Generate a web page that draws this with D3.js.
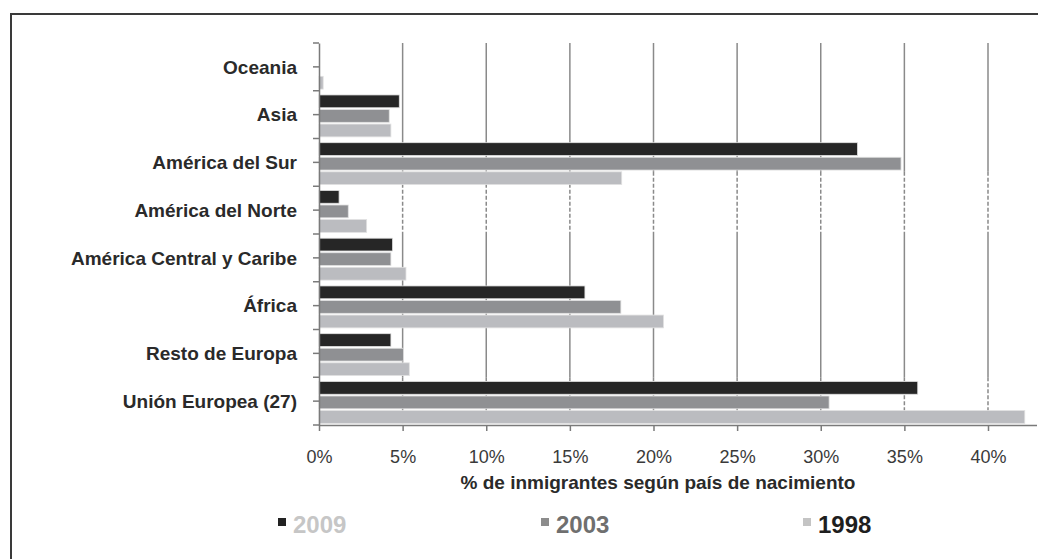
<!DOCTYPE html>
<html>
<head>
<meta charset="utf-8">
<script src="https://cdn.jsdelivr.net/npm/d3@7"></script>
<style>
  html, body { margin: 0; padding: 0; background: #fff; }
  svg { display: block; font-family: "Liberation Sans", Arial, sans-serif; }
</style>
</head>
<body>
<svg id="chart" width="1038" height="559"></svg>
<script>
// ---------- data ----------
const categories = ["Oceania", "Asia", "América del Sur", "América del Norte",
  "América Central y Caribe", "África", "Resto de Europa", "Unión Europea (27)"];
const seriesNames = ["2009", "2003", "1998"];
const values2009 = [0.0, 4.8, 32.2, 1.2, 4.4, 15.9, 4.3, 35.8];
const values2003 = [0.0, 4.2, 34.8, 1.75, 4.3, 18.05, 5.05, 30.5];
const values1998 = [0.25, 4.3, 18.1, 2.85, 5.2, 20.6, 5.4, 42.2];
const tickValues = [0, 5, 10, 15, 20, 25, 30, 35, 40];
const axisTitle = "% de inmigrantes según país de nacimiento";

const seriesValues = { "2009": values2009, "2003": values2003, "1998": values1998 };
const barColors = { "2009": "#262626", "2003": "#8f9093", "1998": "#bbbcc0" };
const legendSquare = { "2009": "#222222", "2003": "#8c8c8c", "1998": "#c4c4c4" };
const legendText = { "2009": "#c6c6c6", "2003": "#6f6f6f", "1998": "#1e1e1e" };

const svg = d3.select("#chart");

// frame
svg.append("path")
  .attr("d", "M11,1200 L11,14 L1200,14")
  .attr("fill", "none").attr("stroke", "#3a3a3a").attr("stroke-width", 2);

// ---------- scales ----------
const x = d3.scaleLinear().domain([0, 42.9]).range([319, 1036.5]);
const y = d3.scaleBand().domain(categories).range([43, 425]).padding(0);
const yi = d3.scaleBand().domain(seriesNames).range([0, y.bandwidth()])
  .paddingInner(0.12).paddingOuter(0.2).align(0.72);

const plotTop = y.range()[0], plotBottom = y.range()[1];

// ---------- gridlines (solid, with dashed stretches like the scan) ----------
const dashedRanges = [
  [y("América del Sur") + yi("1998"), y("América del Norte") + y.bandwidth()],
  [y("Unión Europea (27)"), y("Unión Europea (27)") + y.bandwidth()]
];
const solidRanges = [
  [plotTop, dashedRanges[0][0]],
  [dashedRanges[0][1], dashedRanges[1][0]]
];
const grid = svg.append("g");
tickValues.filter(t => t > 0).forEach(t => {
  solidRanges.forEach(r => {
    grid.append("line").attr("x1", x(t)).attr("x2", x(t)).attr("y1", r[0]).attr("y2", r[1])
      .attr("stroke", "#8a8a8a").attr("stroke-width", 1.5);
  });
  dashedRanges.forEach(r => {
    grid.append("line").attr("x1", x(t)).attr("x2", x(t)).attr("y1", r[0]).attr("y2", r[1])
      .attr("stroke", "#8a8a8a").attr("stroke-width", 1.5).attr("stroke-dasharray", "4,2");
  });
});

// ---------- bars ----------
const groups = svg.append("g").selectAll("g")
  .data(categories).join("g")
  .attr("transform", c => `translate(0,${y(c)})`);

groups.selectAll("rect")
  .data((c, i) => seriesNames.map(s => ({ s, v: seriesValues[s][i] })))
  .join("rect")
  .attr("x", x(0))
  .attr("y", d => yi(d.s))
  .attr("width", d => Math.max(0, x(d.v) - x(0)))
  .attr("height", yi.bandwidth())
  .attr("fill", d => barColors[d.s])
  .attr("stroke", d => d.v > 0 ? "#e2e2e2" : "none")
  .attr("stroke-width", 0.8);

// ---------- y axis ----------
const yAxisG = svg.append("g").attr("transform", `translate(${x(0)},0)`);
yAxisG.call(d3.axisLeft(y).tickSize(6).tickSizeOuter(0).tickFormat(""));
yAxisG.select(".domain").attr("stroke", "#7a7a7a").attr("stroke-width", 1.5);
yAxisG.selectAll(".tick line").attr("stroke", "#7a7a7a").attr("stroke-width", 1.5);
// boundary ticks
const bounds = categories.map(c => y(c)).concat([plotBottom]);
yAxisG.selectAll(".btick").data(bounds).join("line")
  .attr("class", "btick")
  .attr("x1", -6).attr("x2", 0).attr("y1", d => d).attr("y2", d => d)
  .attr("stroke", "#7a7a7a").attr("stroke-width", 1.5);

// category labels
svg.append("g").selectAll("text").data(categories).join("text")
  .attr("x", 297)
  .attr("y", c => y(c) + y.bandwidth() / 2)
  .attr("dy", "0.36em")
  .attr("text-anchor", "end")
  .attr("font-weight", "bold")
  .attr("font-size", 19)
  .attr("fill", "#2a2a2a")
  .text(c => c);

// ---------- x axis ----------
const xAxisG = svg.append("g").attr("transform", `translate(0,${plotBottom})`);
xAxisG.call(d3.axisBottom(x).tickValues(tickValues).tickSize(6).tickSizeOuter(0)
  .tickFormat(d => d + "%"));
xAxisG.select(".domain").attr("stroke", "#7a7a7a").attr("stroke-width", 1.5);
xAxisG.selectAll(".tick line").attr("stroke", "#7a7a7a").attr("stroke-width", 1.5);
xAxisG.selectAll(".tick text")
  .attr("y", 0).attr("dy", 0)
  .attr("transform", "translate(0,38)")
  .attr("font-size", 18)
  .attr("font-family", "Liberation Sans, Arial, sans-serif")
  .attr("fill", "#3a3a3a");

// axis title
svg.append("text")
  .attr("x", 658).attr("y", 489)
  .attr("text-anchor", "middle")
  .attr("font-weight", "bold")
  .attr("font-size", 19)
  .attr("fill", "#2a2a2a")
  .text(axisTitle);

// ---------- legend ----------
const legendX = { "2009": 278, "2003": 541, "1998": 803 };
const legend = svg.append("g").selectAll("g").data(seriesNames).join("g")
  .attr("transform", s => `translate(${legendX[s]},0)`);
legend.append("rect")
  .attr("x", 0).attr("y", 518).attr("width", 8).attr("height", 8)
  .attr("fill", s => legendSquare[s]);
legend.append("text")
  .attr("x", 15).attr("y", 533)
  .attr("font-weight", "bold")
  .attr("font-size", 24)
  .attr("fill", s => legendText[s])
  .text(s => s);
</script>
</body>
</html>
